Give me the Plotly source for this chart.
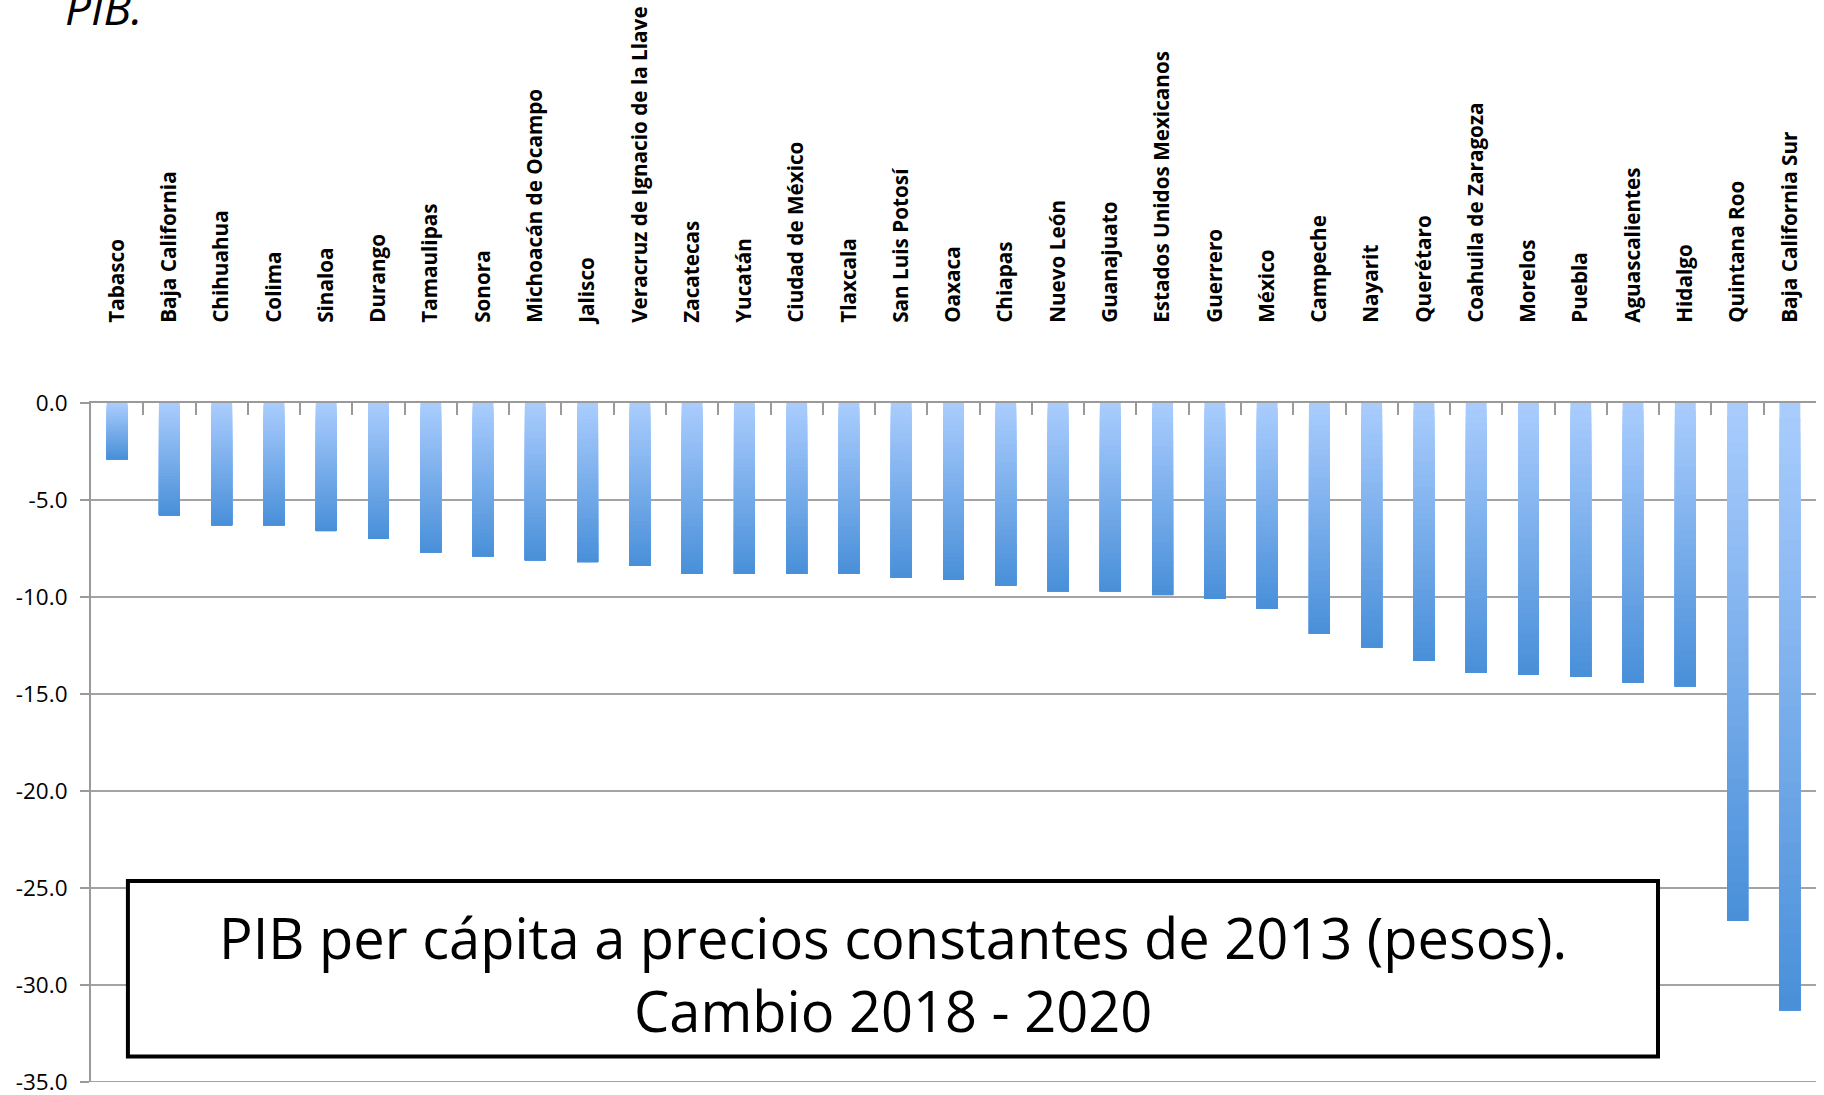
import plotly.graph_objects as go

states = [
    "Tabasco", "Baja California", "Chihuahua", "Colima", "Sinaloa", "Durango",
    "Tamaulipas", "Sonora", "Michoacán de Ocampo", "Jalisco",
    "Veracruz de Ignacio de la Llave", "Zacatecas", "Yucatán", "Ciudad de México",
    "Tlaxcala", "San Luis Potosí", "Oaxaca", "Chiapas", "Nuevo León", "Guanajuato",
    "Estados Unidos Mexicanos", "Guerrero", "México", "Campeche", "Nayarit",
    "Querétaro", "Coahuila de Zaragoza", "Morelos", "Puebla", "Aguascalientes",
    "Hidalgo", "Quintana Roo", "Baja California Sur",
]
change_pct = [
    -2.9, -5.8, -6.3, -6.3, -6.6, -7.0,
    -7.7, -7.9, -8.1, -8.2,
    -8.4, -8.8, -8.8, -8.8,
    -8.8, -9.0, -9.1, -9.4, -9.7, -9.7,
    -9.9, -10.1, -10.6, -11.9, -12.6,
    -13.3, -13.9, -14.0, -14.1, -14.4,
    -14.6, -26.7, -31.3,
]
y_tick_values = [0, -5, -10, -15, -20, -25, -30, -35]
y_tick_labels = ["0.0", "-5.0", "-10.0", "-15.0", "-20.0", "-25.0", "-30.0", "-35.0"]

box_text = "PIB per cápita a precios constantes de 2013 (pesos).<br>Cambio 2018 - 2020"
top_fragment = "PIB."

# vertical gradient inside every bar (light at 0, darker at the bar end):
# layered bars, each one starting a little further from zero and drawn darker
top_rgb = (169, 204, 253)
bottom_rgb = (74, 144, 217)
n_layers = 40

fig = go.Figure()
for k in range(n_layers):
    t = k / (n_layers - 1)
    rgb = tuple(round(a + (b - a) * t) for a, b in zip(top_rgb, bottom_rgb))
    fig.add_trace(go.Bar(
        x=states,
        y=[v * (1 - k / n_layers) for v in change_pct],
        base=[v * k / n_layers for v in change_pct],
        width=0.4,
        marker=dict(color="rgb(%d,%d,%d)" % rgb, line=dict(width=0)),
        hoverinfo="skip" if k else "x",
        showlegend=False,
    ))

fig.update_layout(
    width=1824, height=1095,
    barmode="overlay",
    plot_bgcolor="white", paper_bgcolor="white",
    margin=dict(l=91, r=8, t=403, b=13),
    font=dict(family="Open Sans", color="black"),
    xaxis=dict(
        type="category", side="top", tickangle=-90,
        ticks="inside", tickson="boundaries", ticklen=12,
        tickcolor="#9a9a9a", tickwidth=2,
        showline=True, linecolor="#9a9a9a", linewidth=2, mirror=False,
        showgrid=False, automargin=False,
        tickfont=dict(family="Open Sans", size=20.7, weight="bold", color="black"),
        ticklabelstandoff=74,
    ),
    yaxis=dict(
        range=[-35, 0], tickvals=y_tick_values, ticktext=y_tick_labels,
        ticks="outside", ticklen=9, tickcolor="#9a9a9a", tickwidth=2,
        showline=True, linecolor="#9a9a9a", linewidth=2,
        showgrid=True, gridcolor="#a3a3a3", gridwidth=2, zeroline=False,
        automargin=False, ticklabeloverflow="allow", ticklabelstandoff=8,
        tickfont=dict(family="Open Sans", size=22.5, color="black"),
    ),
)

fig.add_shape(
    type="rect", xref="paper", yref="paper",
    x0=0.0214, x1=0.9084, y0=0.0376, y1=0.296,
    line=dict(color="black", width=4), fillcolor="white", layer="above",
)
fig.add_shape(
    type="line", xref="paper", yref="y", x0=0, x1=1, y0=-35, y1=-35,
    line=dict(color="#a3a3a3", width=2), layer="below",
)
fig.add_annotation(
    text=box_text, xref="paper", yref="paper", x=0.465, y=0.1605,
    xanchor="center", yanchor="middle", showarrow=False, align="center",
    font=dict(family="Open Sans", size=56, color="black"),
)
fig.add_annotation(
    text="<i>" + top_fragment + "</i>", xref="paper", yref="paper",
    x=-0.0165, y=1.535, xanchor="left", yanchor="bottom", showarrow=False,
    font=dict(family="Open Sans", size=46, color="black"),
)

fig.write_html(
    "out.html",
    config={"displayModeBar": False},
    post_script="document.body.style.margin='0';document.body.style.overflow='hidden';",
)
